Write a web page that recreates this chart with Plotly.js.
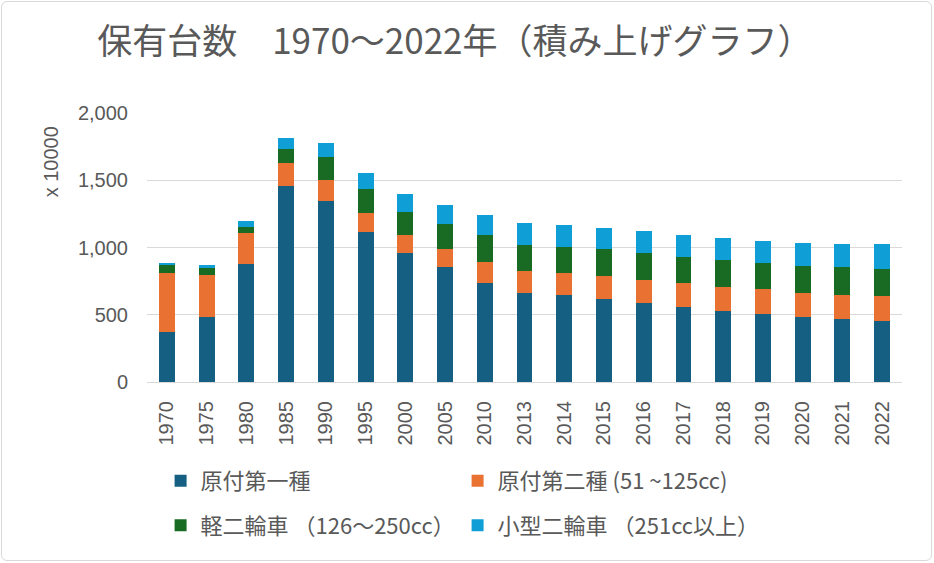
<!DOCTYPE html>
<html>
<head>
<meta charset="utf-8">
<script src="https://cdn.plot.ly/plotly-3.0.1.min.js"></script>
<style>
html,body{margin:0;padding:0;background:#fff;}
#wrap{position:relative;width:934px;height:563px;}
#chart{width:934px;height:563px;}
#frame{position:absolute;left:1px;top:1px;width:929px;height:558px;border:1.5px solid #d9d9d9;border-radius:6px;pointer-events:none;}
</style>
</head>
<body>
<div id="wrap"><div id="chart"></div><div id="frame"></div></div>
<script>
const years = ['1970','1975','1980','1985','1990','1995','2000','2005','2010','2013','2014','2015','2016','2017','2018','2019','2020','2021','2022'];
const gentsuki1 = [371,481,877,1456,1347,1115,961,857,738,659,644,614,585,560,530,505,481,465,451];
const gentsuki2 = [441,316,228,173,154,143,133,133,154,168,164,174,173,173,178,184,182,184,188];
const keiNirin = [55,52,49,104,169,178,169,184,202,193,197,198,198,198,198,193,199,203,203];
const kogataNirin = [17,22,40,82,104,119,134,143,149,159,159,158,164,163,162,168,169,173,183];
const seriesNames = ['原付第一種','原付第二種 (51 ~125cc)','軽二輪車 （126～250cc）','小型二輪車 （251cc以上）'];
const yTickVals = [0,500,1000,1500,2000];

const colors = ['#156082','#E97132','#196B24','#0F9ED5'];
const cjk = '"Noto Sans CJK JP", "Noto Sans", sans-serif';
const latin = '"Liberation Sans", Arial, sans-serif';
const gray = '#595959';

const seriesData = [gentsuki1, gentsuki2, keiNirin, kogataNirin];
const legends = ['legend','legend','legend2','legend2'];
const traces = seriesData.map((vals, i) => ({
  type: 'bar',
  x: years,
  y: vals,
  name: seriesNames[i],
  marker: {color: colors[i]},
  legend: legends[i],
  hoverinfo: 'x+y+name'
}));

const legendBase = {
  orientation: 'h',
  xref: 'paper', yref: 'paper',
  x: 0.018, xanchor: 'left',
  yanchor: 'top',
  entrywidth: 252, entrywidthmode: 'pixels',
  font: {family: cjk, size: 22, color: gray},
  bgcolor: 'rgba(0,0,0,0)',
  traceorder: 'normal'
};

const layout = {
  width: 934, height: 563,
  margin: {l: 147, r: 32, t: 113, b: 181},
  paper_bgcolor: '#fff', plot_bgcolor: '#fff',
  barmode: 'stack',
  bargap: 0.6,
  title: {
    text: '保有台数　1970～2022年（積み上げグラフ）',
    font: {family: cjk, size: 35, color: gray},
    xref: 'container', yref: 'container',
    x: 0.104, xanchor: 'left',
    y: 0.925, yanchor: 'middle'
  },
  xaxis: {
    type: 'category',
    tickangle: -90,
    tickfont: {family: latin, size: 20, color: gray},
    showline: true, linecolor: '#d9d9d9', linewidth: 1,
    ticks: '', showgrid: false,
    ticklabelstandoff: 10
  },
  yaxis: {
    range: [0, 2000],
    tickvals: yTickVals,
    tickformat: ',d',
    tickfont: {family: latin, size: 20, color: gray},
    gridcolor: '#d9d9d9', gridwidth: 1,
    zeroline: false, showline: false, ticks: '',
    ticklabelstandoff: 18
  },
  legend: Object.assign({}, legendBase, {y: -0.29}),
  legend2: Object.assign({}, legendBase, {y: -0.455}),
  annotations: [{
    text: 'x 10000',
    xref: 'paper', yref: 'paper',
    x: -0.127, y: 0.817,
    xanchor: 'center', yanchor: 'middle',
    textangle: -90,
    showarrow: false,
    font: {family: latin, size: 20, color: gray}
  }],
  showlegend: true
};

Plotly.newPlot('chart', traces, layout, {displayModeBar: false, staticPlot: true});
</script>
</body>
</html>
